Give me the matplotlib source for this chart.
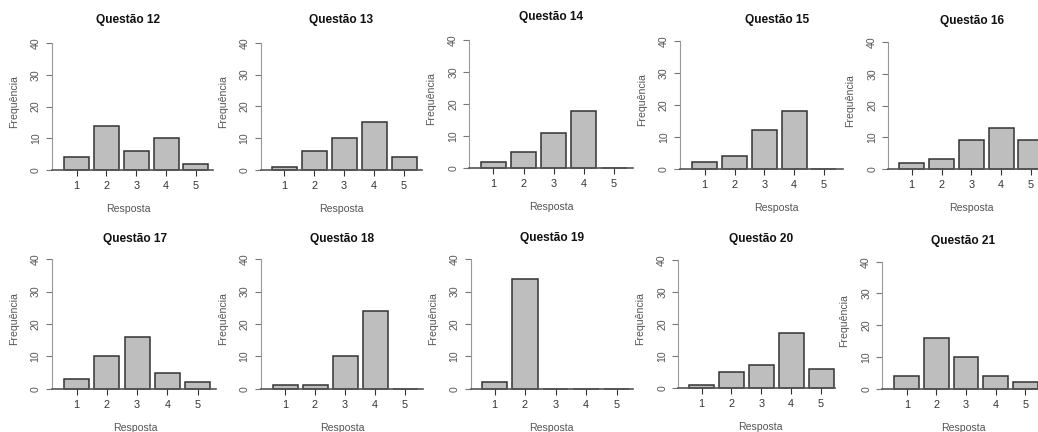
import numpy as np
import matplotlib.pyplot as plt

plt.rcParams['font.family'] = ['Liberation Sans', 'DejaVu Sans']

W, H = 1038, 432

respostas = [1, 2, 3, 4, 5]
questoes = ['Questão 12', 'Questão 13', 'Questão 14', 'Questão 15', 'Questão 16',
            'Questão 17', 'Questão 18', 'Questão 19', 'Questão 20', 'Questão 21']
q12 = [4, 14, 6, 10, 2]
q13 = [1, 6, 10, 15, 4]
q14 = [2, 5, 11, 18, 0]
q15 = [2, 4, 12, 18, 0]
q16 = [2, 3, 9, 13, 9]
q17 = [3, 10, 16, 5, 2]
q18 = [1, 1, 10, 24, 0]
q19 = [2, 34, 0, 0, 0]
q20 = [1, 5, 7, 17, 6]
q21 = [4, 16, 10, 4, 2]
freqs = [q12, q13, q14, q15, q16, q17, q18, q19, q20, q21]

# panel layout in pixels: y-axis x, first bar centre, bar pitch, x-line end,
# y of 40, y of 0, title centre x, title centre y
layout = [
    (52.0, 76.7, 29.8, 213, 43.3, 170.0, 128.0, 20.0),
    (260.7, 284.0, 30.0, 422, 42.7, 170.0, 341.0, 20.0),
    (469.3, 493.3, 30.2, 633, 40.0, 168.3, 551.0, 17.3),
    (680.0, 704.7, 29.8, 843, 40.7, 168.7, 776.7, 20.0),
    (888.3, 911.7, 29.8, 1038, 42.0, 169.0, 971.7, 20.7),
    (51.7, 76.7, 30.2, 216, 259.3, 388.7, 135.0, 239.3),
    (260.7, 285.0, 30.0, 423, 259.3, 388.7, 342.3, 238.7),
    (470.7, 494.5, 30.5, 633, 259.3, 388.7, 551.7, 237.7),
    (678.3, 701.5, 29.9, 835, 260.0, 387.7, 760.7, 238.7),
    (882.3, 906.8, 29.6, 1038, 261.7, 388.7, 963.3, 241.0),
]

fig = plt.figure(figsize=(W / 100, H / 100), dpi=100)

for titulo, vals, (ya, c1, pitch, xend, y40, y0, tx, ty) in zip(questoes, freqs, layout):
    ax = fig.add_axes([ya / W, 1 - y0 / H, (xend - ya) / W, (y0 - y40) / H])
    ax.patch.set_alpha(0)
    ax.bar(respostas, vals, width=1 / 1.2, color='#bebebe',
           edgecolor='#333333', linewidth=1.1, clip_on=False)
    ax.set_xlim(1 - (c1 - ya) / pitch, 1 + (xend - c1) / pitch)
    ax.set_ylim(0, 40)

    for s in ['top', 'right']:
        ax.spines[s].set_visible(False)
    ax.spines['left'].set_color('#999999')
    ax.spines['left'].set_bounds(0, 40)
    ax.spines['bottom'].set_color('#555555')
    ax.spines['bottom'].set_linewidth(1.2)

    ax.set_yticks([0, 10, 20, 30, 40])
    ax.set_yticklabels(['0', '10', '20', '30', '40'], rotation=90, va='center')
    ax.set_xticks(respostas)
    ax.tick_params(axis='y', length=4, width=0.8, color='#777777',
                   labelsize=7.6, labelcolor='#555555', pad=4)
    ax.tick_params(axis='x', length=4, width=0.8, color='#333333',
                   labelsize=7.8, labelcolor='#333333', pad=4)

    fig.text(tx / W, 1 - ty / H, titulo, ha='center', va='center',
             fontsize=8.6, fontweight='bold', color='#111111')
    fig.text(tx / W, 1 - (y0 + 39) / H, 'Resposta', ha='center', va='center',
             fontsize=7.6, color='#555555')
    fig.text((ya - 38) / W, 1 - (y0 - 0.54 * (y0 - y40)) / H, 'Frequência',
             ha='center', va='center', rotation=90, fontsize=7.6, color='#555555')

fig.savefig('out.png', dpi=100)
